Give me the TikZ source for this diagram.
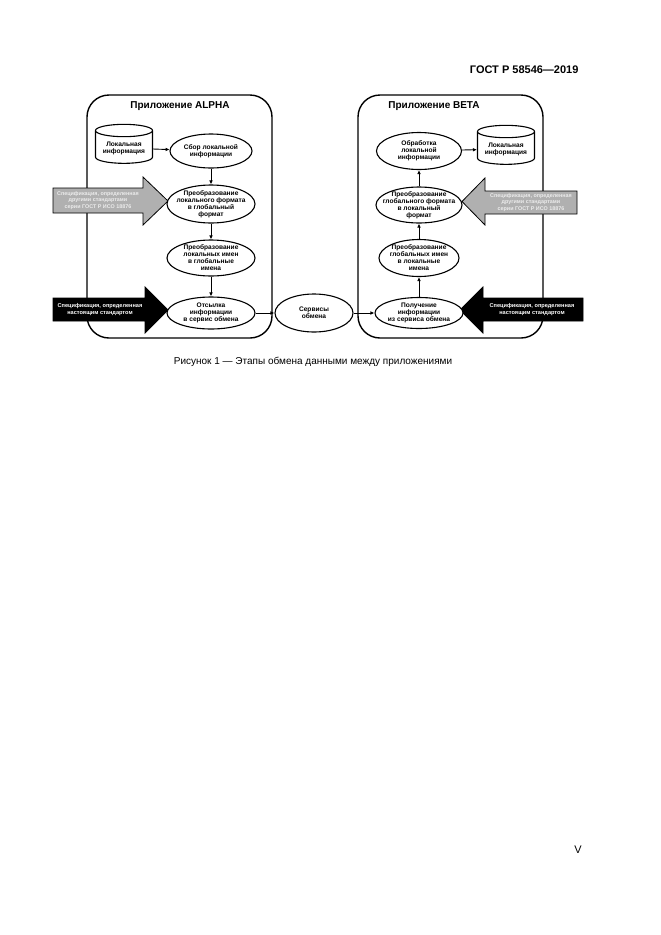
\documentclass[tikz,border=0pt]{standalone}
\usepackage{fontspec}
\setmainfont{Liberation Sans}
\usetikzlibrary{shapes.geometric,arrows.meta,positioning,calc}

\begin{document}
\begin{tikzpicture}[x=1pt, y=-1pt,
    app/.style={draw, line width=1.4pt, rounded corners=22pt},
    apptitle/.style={font=\fontsize{10}{12}\selectfont\bfseries},
    stage/.style={ellipse, draw, fill=white, line width=1.1pt, inner sep=0pt},
    store/.style={cylinder, shape border rotate=90, aspect=0.28, draw, fill=white, line width=1.1pt,
        minimum width=57pt, minimum height=39pt, inner sep=1pt, align=center,
        font=\fontsize{6.6}{7}\selectfont\bfseries},
    flow/.style={-{Latex[length=4pt, width=3.6pt]}, line width=0.9pt},
    spec/.style={draw, line width=0.8pt, fill=black},
    specgray/.style={draw, line width=0.8pt, fill=gray!62},
    spectext/.style={align=center, text=white, font=\fontsize{5.6}{6.6}\selectfont\bfseries},
    every label/.style={align=center, font=\fontsize{6.6}{7}\selectfont\bfseries}]

    % page
    \fill [white] (0,0) rectangle (661,935);
    \useasboundingbox (0,0) rectangle (661,935);
    \node [anchor=east, font=\fontsize{11}{13}\selectfont\bfseries] (gost) at (582,70) {ГОСТ Р 58546—2019};

    % applications
    \draw [app] (87,95) rectangle (272,338);
    \draw [app] (358,95) rectangle (543,338);
    \node [apptitle] (alphaT) at (180,106) {Приложение ALPHA};
    \node [apptitle] (betaT) at (434,106) {Приложение BETA};

    % specification arrows
    \draw [specgray] (53,188) -- (143,188) -- (143,177) -- (168,201) -- (143,225) -- (143,213) -- (53,213) -- cycle;
    \node [spectext, text=gray!15, font=\fontsize{5.4}{6.4}\selectfont\bfseries] (specGL) at (98,200.5)
        {Спецификация, определенная\\другими стандартами\\серии ГОСТ Р ИСО 18876};
    \draw [specgray] (577,191) -- (485,191) -- (485,178) -- (462,201.5) -- (485,225) -- (485,214) -- (577,214) -- cycle;
    \node [spectext, text=gray!15, font=\fontsize{5.4}{6.4}\selectfont\bfseries] (specGR) at (531,202.5)
        {Спецификация, определенная\\другими стандартами\\серии ГОСТ Р ИСО 18876};
    \draw [spec] (53,298) -- (145,298) -- (145,287) -- (168,310) -- (145,333) -- (145,321) -- (53,321) -- cycle;
    \node [spectext] (specBL) at (100,309.5) {Спецификация, определенная\\настоящим стандартом};
    \draw [spec] (583,298) -- (483,298) -- (483,287) -- (460,310) -- (483,333) -- (483,321) -- (583,321) -- cycle;
    \node [spectext] (specBR) at (532,309.5) {Спецификация, определенная\\настоящим стандартом};

    % ALPHA
    \node [store] (cylL) at (124,148) {Локальная\\информация};
    \node [stage, minimum width=82, minimum height=34, label=center:{Сбор локальной\\информации}] (sbor) at (211,151) {};
    \node [stage, minimum width=88, minimum height=38, label=center:{Преобразование\\локального формата\\в глобальный\\формат}] (fmtL) at (211,204) {};
    \node [stage, minimum width=88, minimum height=36, label=center:{Преобразование\\локальных имен\\в глобальные\\имена}] (namL) at (211,258) {};
    \node [stage, minimum width=88, minimum height=32, label=center:{Отсылка\\информации\\в сервис обмена}] (otsL) at (211,313) {};

    % exchange
    \node [stage, minimum width=78, minimum height=38, label=center:{Сервисы\\обмена}] (serv) at (314,313) {};

    % BETA
    \node [stage, minimum width=85, minimum height=37, label=center:{Обработка\\локальной\\информации}] (obr) at (419,151) {};
    \node [store] (cylR) at (506,149) {Локальная\\информация};
    \node [stage, minimum width=86, minimum height=36, label=center:{Преобразование\\глобального формата\\в локальный\\формат}] (fmtR) at (419,205) {};
    \node [stage, minimum width=80, minimum height=37, label=center:{Преобразование\\глобальных имен\\в локальные\\имена}] (namR) at (419,258) {};
    \node [stage, minimum width=88, minimum height=31, label=center:{Получение\\информации\\из сервиса обмена}] (polu) at (419,313) {};

    \draw [flow] (cylL) -- (sbor);
    \draw [flow] (sbor) -- (fmtL);
    \draw [flow] (fmtL) -- (namL);
    \draw [flow] (namL) -- (otsL);
    \draw [flow] (otsL) -- (serv);
    \draw [flow] (serv) -- (polu);
    \draw [flow] (polu) -- (namR);
    \draw [flow] (namR) -- (fmtR);
    \draw [flow] (fmtR) -- (obr);
    \draw [flow] (obr) -- (cylR);

    \node [font=\fontsize{10}{12}\selectfont] (caption) at (313,362) {Рисунок 1 — Этапы обмена данными между приложениями};
    \node [font=\fontsize{11}{13}\selectfont] (pageno) at (578,850) {V};
\end{tikzpicture}
\end{document}
